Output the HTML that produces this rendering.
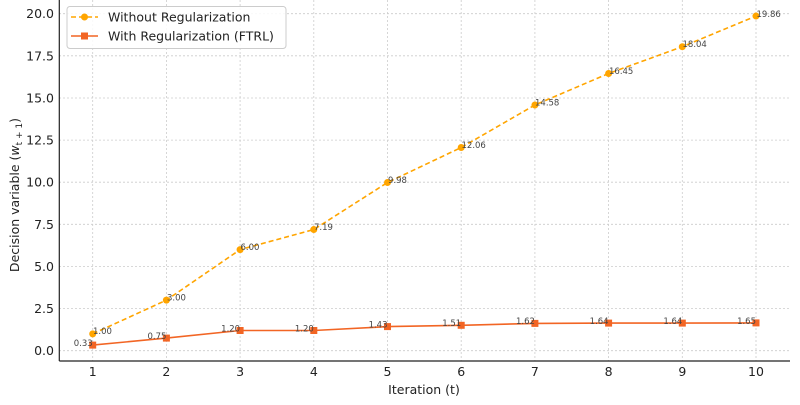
<!DOCTYPE html>
<html><head><meta charset="utf-8"><style>body{margin:0;background:#fff}svg{display:block}text{font-family:"DejaVu Sans","Liberation Sans",sans-serif}</style></head><body>
<svg width="800" height="405" viewBox="0 0 800 405" xmlns="http://www.w3.org/2000/svg">
<g stroke="#ccc" stroke-width="0.8" stroke-dasharray="2,2">
<line x1="59" x2="790" y1="350.7" y2="350.7"/><line x1="59" x2="790" y1="308.6" y2="308.6"/><line x1="59" x2="790" y1="266.5" y2="266.5"/><line x1="59" x2="790" y1="224.3" y2="224.3"/><line x1="59" x2="790" y1="182.2" y2="182.2"/><line x1="59" x2="790" y1="140.1" y2="140.1"/><line x1="59" x2="790" y1="98" y2="98"/><line x1="59" x2="790" y1="55.8" y2="55.8"/><line x1="59" x2="790" y1="13.7" y2="13.7"/>
<line y1="0" y2="361" x1="92.7" x2="92.7"/><line y1="0" y2="361" x1="166.4" x2="166.4"/><line y1="0" y2="361" x1="240.1" x2="240.1"/><line y1="0" y2="361" x1="313.8" x2="313.8"/><line y1="0" y2="361" x1="387.5" x2="387.5"/><line y1="0" y2="361" x1="461.2" x2="461.2"/><line y1="0" y2="361" x1="534.9" x2="534.9"/><line y1="0" y2="361" x1="608.6" x2="608.6"/><line y1="0" y2="361" x1="682.3" x2="682.3"/><line y1="0" y2="361" x1="756" x2="756"/>
</g>
<g stroke="#222" stroke-width="1.2"><line x1="59.3" y1="0" x2="59.3" y2="361"/><line x1="59.3" y1="361" x2="790" y2="361"/></g>
<g font-size="12.5" fill="#222" text-anchor="end">
<text x="54" y="355.2">0.0</text><text x="54" y="313.1">2.5</text><text x="54" y="271">5.0</text><text x="54" y="228.8">7.5</text><text x="54" y="186.7">10.0</text><text x="54" y="144.6">12.5</text><text x="54" y="102.5">15.0</text><text x="54" y="60.3">17.5</text><text x="54" y="18.2">20.0</text>
</g>
<g font-size="12.5" fill="#222" text-anchor="middle">
<text x="92.7" y="376">1</text><text x="166.4" y="376">2</text><text x="240.1" y="376">3</text><text x="313.8" y="376">4</text><text x="387.5" y="376">5</text><text x="461.2" y="376">6</text><text x="534.9" y="376">7</text><text x="608.6" y="376">8</text><text x="682.3" y="376">9</text><text x="756" y="376">10</text>
<text x="424" y="394">Iteration (t)</text>
</g>
<text transform="translate(19,195) rotate(-90)" font-size="12.5" fill="#222" text-anchor="middle">Decision variable (<tspan font-style="italic">w</tspan><tspan font-size="9" dy="3">t + 1</tspan><tspan dy="-3">)</tspan></text>
<polyline fill="none" stroke="#FFA500" stroke-width="1.6" stroke-dasharray="5,3" points="92.7,333.85 166.4,300.15 240.1,249.6 313.8,229.55 387.5,182.5 461.2,147.5 534.9,105 608.6,73.5 682.3,46.7 756,16.06"/>
<g fill="#FFA500"><circle cx="92.7" cy="333.85" r="3.5"/><circle cx="166.4" cy="300.15" r="3.5"/><circle cx="240.1" cy="249.6" r="3.5"/><circle cx="313.8" cy="229.55" r="3.5"/><circle cx="387.5" cy="182.5" r="3.5"/><circle cx="461.2" cy="147.5" r="3.5"/><circle cx="534.9" cy="105" r="3.5"/><circle cx="608.6" cy="73.5" r="3.5"/><circle cx="682.3" cy="46.7" r="3.5"/><circle cx="756" cy="16.06" r="3.5"/></g>
<polyline fill="none" stroke="#F26524" stroke-width="1.6" points="92.7,345.1 166.4,338.1 240.1,330.5 313.8,330.5 387.5,326.6 461.2,325.3 534.9,323.4 608.6,323.1 682.3,323.1 756,322.9"/>
<g fill="#F26524"><rect x="89.2" y="341.6" width="7" height="7"/><rect x="162.9" y="334.6" width="7" height="7"/><rect x="236.6" y="327" width="7" height="7"/><rect x="310.3" y="327" width="7" height="7"/><rect x="384" y="323.1" width="7" height="7"/><rect x="457.7" y="321.8" width="7" height="7"/><rect x="531.4" y="319.9" width="7" height="7"/><rect x="605.1" y="319.6" width="7" height="7"/><rect x="678.8" y="319.6" width="7" height="7"/><rect x="752.5" y="319.4" width="7" height="7"/></g>
<g font-size="8.5" fill="#444">
<text x="93" y="334">1.00</text><text x="167" y="300.5">3.00</text><text x="240.5" y="250">6.00</text><text x="314" y="230">7.19</text><text x="388" y="183">9.98</text><text x="461.5" y="148">12.06</text><text x="535" y="105.5">14.58</text><text x="609" y="74">16.45</text><text x="682.5" y="47">18.04</text><text x="756.5" y="17">19.86</text>
</g>
<g font-size="8.5" fill="#444" text-anchor="end">
<text x="92.7" y="346">0.33</text><text x="166.4" y="339">0.75</text><text x="240.1" y="331.5">1.20</text><text x="313.8" y="331.5">1.20</text><text x="387.5" y="327.5">1.43</text><text x="461.2" y="326">1.51</text><text x="534.9" y="324">1.62</text><text x="608.6" y="324">1.64</text><text x="682.3" y="324">1.64</text><text x="756" y="324">1.65</text>
</g>
<rect x="67" y="6.5" width="219" height="42" rx="3" fill="#fff" fill-opacity="0.85" stroke="#ccc" stroke-width="1"/>
<line x1="71" y1="17" x2="98" y2="17" stroke="#FFA500" stroke-width="1.6" stroke-dasharray="5,3"/><circle cx="84.5" cy="17" r="3.5" fill="#FFA500"/>
<line x1="71" y1="36" x2="98" y2="36" stroke="#F26524" stroke-width="1.6"/><rect x="81" y="32.5" width="7" height="7" fill="#F26524"/>
<text x="108" y="21.5" font-size="12.5" fill="#222">Without Regularization</text>
<text x="108" y="40.5" font-size="12.5" fill="#222">With Regularization (FTRL)</text>
</svg>
</body></html>
